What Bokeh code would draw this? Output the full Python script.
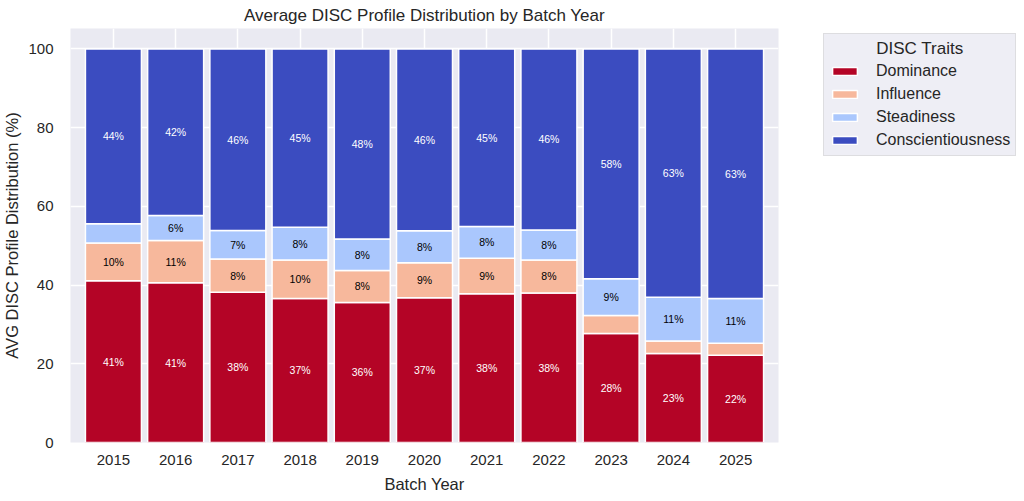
from bokeh.plotting import figure
from bokeh.models import ColumnDataSource, Range1d, FixedTicker, Legend, LegendItem
from bokeh.layouts import row
from bokeh.core.properties import value
from bokeh.embed import file_html
from bokeh.resources import INLINE

# ---------------- data ----------------
years = [2015, 2016, 2017, 2018, 2019, 2020, 2021, 2022, 2023, 2024, 2025]
traits = ["Dominance", "Influence", "Steadiness", "Conscientiousness"]
dominance = [41.1, 40.6, 38.2, 36.6, 35.6, 36.8, 37.8, 38.0, 27.7, 22.6, 22.2]
influence = [9.6, 10.7, 8.4, 9.8, 8.1, 8.9, 9.0, 8.4, 4.6, 3.2, 3.0]
steadiness = [4.9, 6.4, 7.3, 8.3, 8.0, 8.1, 8.1, 7.6, 9.3, 11.1, 11.4]
conscientiousness = [44.4, 42.3, 46.1, 45.3, 48.3, 46.2, 45.1, 46.0, 58.4, 63.1, 63.4]
y_ticks = [0, 20, 40, 60, 80, 100]

series = [dominance, influence, steadiness, conscientiousness]
colors = ["#b40426", "#f7b89c", "#aac7fd", "#3b4cc0"]
label_colors = ["white", "black", "black", "white"]

FONT = "Liberation Sans"
TEXT = "#262626"
H = 497

source = ColumnDataSource(dict(year=years, **{t: s for t, s in zip(traits, series)}))

p = figure(width=790, height=H, output_backend="svg", toolbar_location=None,
           x_range=Range1d(2014.31, 2025.69), y_range=Range1d(0, 105.2),
           min_border_left=70, min_border_right=12, min_border_top=28,
           min_border_bottom=55,
           title="Average DISC Profile Distribution by Batch Year")

p.title.align = "center"
p.title.vertical_align = "top"
p.title.text_font = FONT
p.title.text_font_size = "17px"
p.title.text_font_style = "normal"
p.title.text_color = TEXT
p.title.standoff = 4

p.background_fill_color = "#EAEAF2"
p.border_fill_color = "white"
p.outline_line_color = None

p.vbar_stack(traits, x="year", width=0.9, fill_color=colors, line_color="white",
             line_width=1.5, source=source)

# value labels
lx, ly, lt, lc = [], [], [], []
for k, arr in enumerate(series):
    for i, yr in enumerate(years):
        bottom = sum(series[j][i] for j in range(k))
        v = arr[i]
        if v > 5:
            lx.append(yr)
            ly.append(bottom + v / 2)
            lt.append(f"{v:.0f}%")
            lc.append(label_colors[k])
lab_src = ColumnDataSource(dict(x=lx, y=ly, t=lt, c=lc))
p.text(x="x", y="y", text="t", text_color="c", source=lab_src,
       text_align="center", text_baseline="middle",
       text_font=value(FONT), text_font_size="10.5px")

# axes
p.xaxis.ticker = FixedTicker(ticks=years)
p.yaxis.ticker = FixedTicker(ticks=y_ticks)
p.xgrid.ticker = FixedTicker(ticks=years)
p.ygrid.ticker = FixedTicker(ticks=y_ticks)
p.xaxis.axis_label = "Batch Year"
p.yaxis.axis_label = "AVG DISC Profile Distribution (%)"
for ax in p.axis:
    ax.axis_line_color = None
    ax.major_tick_line_color = None
    ax.minor_tick_line_color = None
    ax.major_tick_out = 0
    ax.major_tick_in = 0
    ax.major_label_text_font = FONT
    ax.major_label_text_font_size = "15px"
    ax.major_label_text_color = TEXT
    ax.axis_label_text_font = FONT
    ax.axis_label_text_font_size = "16.5px"
    ax.axis_label_text_font_style = "normal"
    ax.axis_label_text_color = TEXT
p.xaxis.major_label_standoff = 12
p.xaxis.axis_label_standoff = 7
p.yaxis.major_label_standoff = 17
p.yaxis.axis_label_standoff = 4

for g in (p.xgrid, p.ygrid):
    g.grid_line_color = "white"
    g.grid_line_width = 1.5
    g.grid_line_alpha = 1.0

# legend panel (separate blank figure next to the chart)
pl = figure(width=230, height=H, output_backend="svg", toolbar_location=None,
            x_range=Range1d(0, 1), y_range=Range1d(0, 1),
            min_border_left=0, min_border_right=0, min_border_top=0,
            min_border_bottom=0)
pl.axis.visible = False
pl.grid.visible = False
pl.outline_line_color = None
pl.background_fill_color = "white"
pl.border_fill_color = "white"
# off-screen stand-in glyphs, only used for the legend swatches
legend_rs = [pl.vbar(x=[-10], top=[0], width=0.9, fill_color=c, line_color="white",
                     line_width=1.5) for c in colors]

items = [LegendItem(label=t, renderers=[r]) for t, r in zip(traits, legend_rs)]
leg = Legend(items=items, location=(33, 286))
leg.title = "\u00a0" * 10 + "DISC Traits"
leg.title_text_font = FONT
leg.title_text_font_size = "17px"
leg.title_text_font_style = "normal"
leg.title_text_color = TEXT
leg.title_standoff = 2
leg.label_text_font = FONT
leg.label_text_font_size = "16px"
leg.label_text_color = TEXT
leg.padding = 5
leg.spacing = 3
leg.margin = 0
leg.label_height = 20
leg.glyph_height = 10
leg.glyph_width = 31
leg.label_standoff = 16
leg.background_fill_color = "#EEEEF5"
leg.background_fill_alpha = 1.0
leg.border_line_color = "#CCCCCC"
leg.border_line_width = 1
pl.add_layout(leg, "center")

layout = row(p, pl)
open("out.html", "w").write(file_html(layout, INLINE))
